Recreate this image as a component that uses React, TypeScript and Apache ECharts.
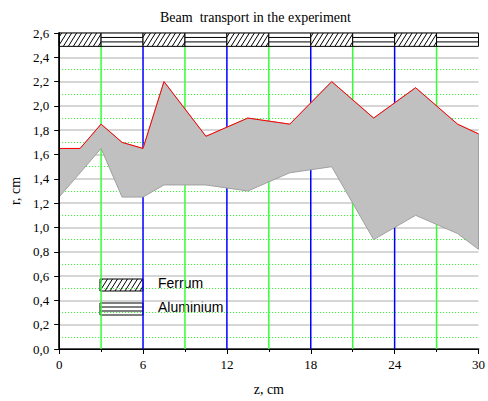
import React, { useEffect, useRef } from 'react';
import * as echarts from 'echarts';

// Upper envelope (red line) of the beam, z in cm, r in cm
const upperZ = [0, 1.5, 3, 4.5, 6, 7.5, 10.5, 13.5, 16.5, 19.5, 22.5, 25.5, 28.5, 30];
const upperR = [1.65, 1.65, 1.85, 1.7, 1.65, 2.2, 1.75, 1.9, 1.85, 2.2, 1.9, 2.15, 1.85, 1.77];
// Lower envelope of the grey band
const lowerZ = [0, 3, 4.5, 6, 7.5, 10.5, 13.5, 16.5, 19.5, 22.5, 25.5, 28.5, 30];
const lowerR = [1.25, 1.65, 1.25, 1.25, 1.35, 1.35, 1.3, 1.45, 1.5, 0.9, 1.1, 0.95, 0.82];

// Absorber blocks along the top
const blockStart = [0, 3, 6, 9, 12, 15, 18, 21, 24, 27];
const blockEnd = [3, 6, 9, 12, 15, 18, 21, 24, 27, 30];
const blockMaterial = ['Ferrum', 'Aluminium', 'Ferrum', 'Aluminium', 'Ferrum', 'Aluminium', 'Ferrum', 'Aluminium', 'Ferrum', 'Aluminium'];
const blockBottom = 2.49;
const blockTop = 2.6;

// Vertical guide lines (block boundaries)
const guideZ = [3, 6, 9, 12, 15, 18, 21, 24, 27];
const guideColor = ['#33ff33', '#0000ff', '#33ff33', '#0000ff', '#33ff33', '#0000ff', '#33ff33', '#0000ff', '#33ff33'];

const legendNames = ['Ferrum', 'Aluminium'];

function blackLine() {
  return { stroke: '#000', lineWidth: 1, fill: null };
}

function hatchLines(x0: number, y0: number, x1: number, y1: number, step: number) {
  const out: any[] = [];
  const k = 1.6;
  for (let a = x0 - (y1 - y0) / k + step / 2; a < x1; a += step) {
    let xa = a;
    let ya = y1;
    let xb = a + (y1 - y0) / k;
    let yb = y0;
    if (xa < x0) {
      ya = y1 - k * (x0 - a);
      xa = x0;
    }
    if (xb > x1) {
      yb = y1 - k * (x1 - a);
      xb = x1;
    }
    if (xb > xa) {
      out.push({ type: 'line', shape: { x1: xa, y1: ya, x2: xb, y2: yb }, style: blackLine() });
    }
  }
  return out;
}

function alLines(x0: number, y0: number, x1: number, y1: number) {
  const h = y1 - y0;
  return [1, 2].map((k) => ({
    type: 'line',
    shape: { x1: x0, y1: y0 + (h * k) / 3, x2: x1, y2: y0 + (h * k) / 3 },
    style: blackLine(),
  }));
}

function materialBox(mat: string, x0: number, y0: number, x1: number, y1: number) {
  const inner = mat === 'Ferrum' ? hatchLines(x0, y0, x1, y1, 5) : alLines(x0, y0, x1, y1);
  return [
    { type: 'rect', shape: { x: x0, y: y0, width: x1 - x0, height: y1 - y0 }, style: { fill: '#fff' } },
    ...inner,
    { type: 'rect', shape: { x: x0, y: y0, width: x1 - x0, height: y1 - y0 }, style: { fill: 'none', stroke: '#000', lineWidth: 1 } },
  ];
}

const serif = 'Liberation Serif';
const sans = 'Liberation Sans';

export default function App() {
  const ref = useRef<HTMLDivElement>(null);
  useEffect(() => {
    if (!ref.current) return;
    const chart = echarts.init(ref.current, null, { renderer: 'svg' });
    const legendY = [279, 303];
    const option: any = {
      animation: false,
      backgroundColor: '#fff',
      title: {
        text: 'Beam  transport in the experiment',
        left: 155,
        top: 5,
        textStyle: { fontFamily: serif, fontSize: 14, fontWeight: 'normal', color: '#000' },
      },
      grid: { left: 57, right: 4, top: 33, bottom: 51, containLabel: false },
      xAxis: [
        {
          type: 'value',
          position: 'bottom',
          min: 0,
          max: 30,
          interval: 6,
          z: 10,
          axisLine: { show: true, lineStyle: { color: '#000', width: 1 } },
          axisTick: { show: true, inside: false, length: 5, lineStyle: { color: '#000' } },
          minorTick: { show: true, splitNumber: 2, length: 3, lineStyle: { color: '#000' } },
          splitLine: { show: false },
          axisLabel: { fontFamily: serif, fontSize: 13, color: '#000', margin: 9 },
          name: 'z, cm',
          nameLocation: 'middle',
          nameGap: 33,
          nameTextStyle: { fontFamily: serif, fontSize: 14, color: '#000' },
        },
        {
          type: 'value',
          position: 'top',
          min: 0,
          max: 30,
          interval: 6,
          z: 0,
          axisLine: { show: true, lineStyle: { color: '#555', width: 2 } },
          axisTick: { show: false },
          axisLabel: { show: false },
          splitLine: { show: false },
        },
      ],
      yAxis: [
        {
          type: 'value',
          position: 'left',
          min: 0,
          max: 2.6,
          interval: 0.2,
          z: 10,
          axisLine: { show: true, lineStyle: { color: '#000', width: 1 } },
          axisTick: { show: true, inside: false, length: 5, lineStyle: { color: '#000' } },
          splitLine: { show: false },
          axisLabel: {
            fontFamily: serif,
            fontSize: 13,
            color: '#000',
            margin: 10,
            formatter: (v: number) => v.toFixed(1).replace('.', ','),
          },
          name: 'r, cm',
          nameLocation: 'middle',
          nameRotate: 90,
          nameGap: 36,
          nameTextStyle: { fontFamily: serif, fontSize: 14, color: '#000' },
        },
        {
          type: 'value',
          position: 'right',
          min: 0,
          max: 2.6,
          interval: 0.2,
          z: 0,
          axisLine: { show: true, lineStyle: { color: '#333', width: 2 } },
          axisTick: { show: false },
          axisLabel: { show: false },
          minorTick: { show: false, splitNumber: 2 },
          splitLine: { show: true, lineStyle: { color: '#c8c8c8', width: 1.5 } },
          minorSplitLine: { show: true, lineStyle: { color: '#22ee22', width: 1, type: [1, 2] } },
        },
      ],
      series: [
        {
          type: 'custom',
          name: 'guides',
          xAxisIndex: 0,
          yAxisIndex: 0,
          z: 1,
          silent: true,
          data: guideZ.map((z) => [z, 0]),
          renderItem: (params: any, api: any) => {
            const i = params.dataIndex;
            const a = api.coord([guideZ[i], 0]);
            const b = api.coord([guideZ[i], blockTop]);
            return {
              type: 'line',
              shape: { x1: a[0], y1: a[1], x2: b[0], y2: b[1] },
              style: { stroke: guideColor[i], lineWidth: 1.5 },
            };
          },
        },
        {
          type: 'custom',
          name: 'band',
          xAxisIndex: 0,
          yAxisIndex: 0,
          clip: true,
          z: 2,
          data: [[upperZ[0], upperR[0]]],
          renderItem: (params: any, api: any) => {
            const pts: number[][] = upperZ.map((z, i) => api.coord([z, upperR[i]]));
            for (let i = lowerZ.length - 1; i >= 0; i--) pts.push(api.coord([lowerZ[i], lowerR[i]]));
            return {
              type: 'polygon',
              shape: { points: pts },
              style: { fill: '#c0c0c0', stroke: '#a0a0a0', lineWidth: 1 },
            };
          },
        },
        {
          type: 'line',
          name: 'upper',
          xAxisIndex: 0,
          yAxisIndex: 0,
          z: 3,
          showSymbol: false,
          symbol: 'none',
          data: upperZ.map((z, i) => [z, upperR[i]]),
          lineStyle: { color: '#ff0000', width: 1 },
        },
        {
          type: 'custom',
          name: 'blocks',
          xAxisIndex: 0,
          yAxisIndex: 0,
          z: 4,
          data: blockStart.map((s, i) => [s, blockBottom, blockEnd[i], blockTop]),
          encode: { x: [0, 2], y: [1, 3] },
          renderItem: (params: any, api: any) => {
            const i = params.dataIndex;
            const p0 = api.coord([blockStart[i], blockTop]);
            const p1 = api.coord([blockEnd[i], blockBottom]);
            return {
              type: 'group',
              children: materialBox(blockMaterial[i], p0[0], p0[1], p1[0], p1[1]),
            };
          },
        },
      ],
      graphic: legendNames.map((name, k) => ({
        type: 'group',
        z: 100,
        children: [
          ...materialBox(name, 100, legendY[k], 143, legendY[k] + 12),
          {
            type: 'text',
            x: 158,
            y: legendY[k] + 4,
            style: { text: name, fontFamily: sans, fontSize: 14, fill: '#000', verticalAlign: 'middle', align: 'left' },
          },
        ],
      })),
    };
    chart.setOption(option);
    return () => chart.dispose();
  }, []);
  return <div ref={ref} style={{ position: 'fixed', left: 0, top: 0, width: 488, height: 401 }} />;
}
